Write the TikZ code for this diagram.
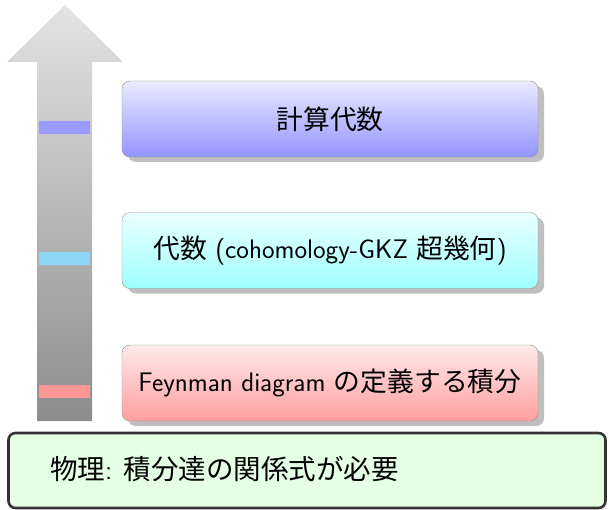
\documentclass[tikz,border=0pt]{standalone}
\usepackage{fontspec}
\newfontfamily\cjk{Noto Sans CJK JP}
\usetikzlibrary{shadows}
\definecolor{barblue}{RGB}{153,153,255}
\definecolor{barcyan}{RGB}{140,214,245}
\definecolor{barred}{RGB}{255,150,150}
\tikzset{
  levelbox/.style={rectangle, rounded corners=8pt, draw=gray!90, thin,
    minimum width=416pt, minimum height=76pt, inner sep=0pt,
    font=\sffamily\fontsize{26.8}{30}\selectfont,
    drop shadow={shadow xshift=6pt, shadow yshift=-5pt, fill=black!25, opacity=1}},
  levelbar/.style={rectangle, inner sep=0pt, minimum width=51pt, minimum height=13pt},
  basebox/.style={rectangle, rounded corners=7pt, draw=black!80, line width=2.6pt,
    fill=green!10, minimum width=597pt, minimum height=75pt, inner sep=0pt},
}
\begin{document}
\begin{tikzpicture}[x=1pt,y=-1pt]
\useasboundingbox (0,0) rectangle (609,510);
% big arrow
\shade[top color=gray!22, bottom color=gray!90]
  (65,5) -- (123,62) -- (92,62) -- (92,421) -- (37,421) -- (37,62) -- (7,62) -- cycle;
% level bars
\node[levelbar, fill=barblue] (b1) at (64.5,127.5) {};
\node[levelbar, fill=barcyan] (b2) at (64.5,258) {};
\node[levelbar, fill=barred] (b3) at (64.5,391) {};
% boxes
\node[levelbox, top color=blue!8, bottom color=blue!42] (top) at (330,119) {\cjk 計算代数};
\node[levelbox, top color=cyan!8, bottom color=cyan!38] (mid) at (330,250.5) {{\cjk 代数} (cohomology-GKZ {\cjk 超幾何})};
\node[levelbox, top color=red!8, bottom color=red!38] (low) at (330,383) {Feynman diagram {\cjk の定義する積分}};
% base
\node[basebox] (base) at (307,470.5) {};
\node[anchor=west, font=\sffamily\fontsize{27.5}{30}\selectfont, inner sep=0pt] (basetxt) at (50,469) {{\cjk 物理}: {\cjk 積分達の関係式が必要}};
\end{tikzpicture}
\end{document}
